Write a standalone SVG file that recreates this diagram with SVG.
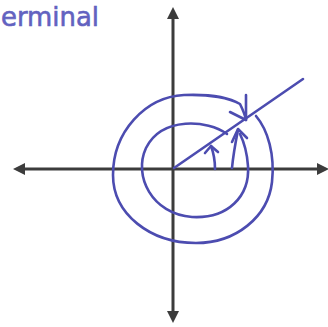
<svg xmlns="http://www.w3.org/2000/svg" width="328" height="327" viewBox="0 0 328 327">
<style>
.ax{stroke:#3c3c3c;stroke-width:3;fill:none;stroke-linecap:round}
.ah{fill:#3c3c3c;stroke:none}
.bl{stroke:#4c4cb0;stroke-width:2.6;fill:none;stroke-linecap:round;stroke-linejoin:round}
.lbl{font-family:"DejaVu Sans",sans-serif;font-size:27px;fill:#6262c0;stroke:#6262c0;stroke-width:0.6}
</style>
<rect width="328" height="327" fill="#ffffff"/>
<g id="axes">
<line class="ax" x1="173" y1="14" x2="173" y2="316"/>
<line class="ax" x1="20" y1="169" x2="322" y2="169"/>
<polygon class="ah" points="173,7 167,19 179,19"/>
<polygon class="ah" points="173,323 167,311 179,311"/>
<polygon class="ah" points="13,169 25,163 25,175"/>
<polygon class="ah" points="329,169 317,163 317,175"/>
</g>
<g id="connectors">
<line class="bl" x1="174" y1="168" x2="303" y2="79"/>
<path class="bl" d="M215 169 C215 161 214 154 211 146"/>
<path class="bl" d="M205 153 L211 146 L218 152"/>
<path class="bl" d="M232 168 C233 157 235 145 238 130"/>
<path class="bl" d="M232 142 L238 129 L247 138"/>
<path class="bl" d="M227 134 C208 120 162 116 146 148 C133 176 152 214 192 217 C228 219 250 196 248 166 C247 152 244 142 240 134"/>
<path class="bl" d="M256 116 C268 130 275 155 272 182 C268 217 236 243 196 243 C150 243 113 214 113 175 C113 132 145 97 184 95 C210 94 230 98 240 104 C243 110 245 115 246 120"/>
<path class="bl" d="M246 95 L246 120 L230 112"/>
</g>
<g id="label">
<text class="lbl" x="1" y="26" textLength="98" lengthAdjust="spacingAndGlyphs">erminal</text>
</g>
</svg>
